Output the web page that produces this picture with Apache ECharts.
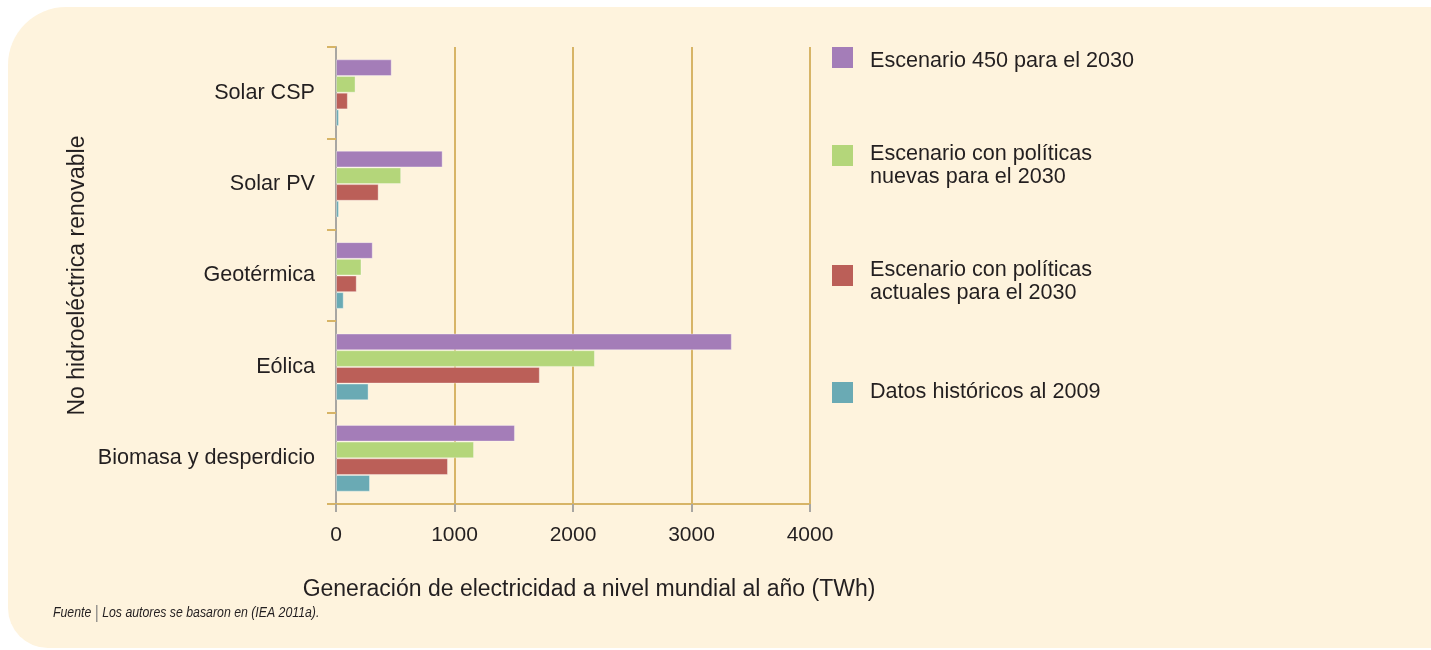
<!DOCTYPE html>
<html>
<head>
<meta charset="utf-8">
<script src="https://cdn.jsdelivr.net/npm/echarts@6/dist/echarts.min.js"></script>
<style>
  html, body { margin: 0; padding: 0; background: #ffffff; }
  #chart { width: 1431px; height: 650px; }
</style>
</head>
<body>
<div id="chart"></div>
<script>
// categorías de arriba hacia abajo
const categories = ['Solar CSP', 'Solar PV', 'Geotérmica', 'Eólica', 'Biomasa y desperdicio']

// TWh por escenario, mismo orden que categories
const escenario450 = [470, 900, 310, 3340, 1510]
const politicasNuevas = [165, 550, 215, 2185, 1165]
const politicasActuales = [100, 360, 175, 1720, 945]
const historicos2009 = [25, 25, 65, 275, 287]

const seriesNames = [
  'Escenario 450 para el 2030',
  'Escenario con políticas\nnuevas para el 2030',
  'Escenario con políticas\nactuales para el 2030',
  'Datos históricos al 2009',
]
const seriesColors = ['#a47db8', '#b4d67a', '#bb5f58', '#6aaab4']
const xTicks = [0, 1000, 2000, 3000, 4000]

const gold = '#d7b466'
const grey = '#a8a6a2'
const ink = '#231f20'
const font = '"Liberation Sans", Arial, sans-serif'

// leyenda dibujada a mano: el cuadro queda alineado con la primera línea
function legendGraphics () {
  const tops = [47, 145, 265, 382]
  const centers = [61, 166, 281.5, 392]
  const out = []
  seriesNames.forEach((name, i) => {
    out.push({
      type: 'rect',
      shape: { x: 832, y: tops[i], width: 21, height: 21 },
      style: { fill: seriesColors[i] },
    })
    out.push({
      type: 'text',
      x: 870,
      y: centers[i],
      style: {
        text: name,
        font: '21.6px ' + font,
        fill: ink,
        lineHeight: 23,
        verticalAlign: 'middle',
        align: 'left',
      },
    })
  })
  return out
}

const chart = echarts.init(document.getElementById('chart'))
const values = [escenario450, politicasNuevas, politicasActuales, historicos2009]

chart.setOption({
  backgroundColor: '#ffffff',
  animation: false,
  grid: { left: 336, top: 47, right: 621, bottom: 146, containLabel: false },
  xAxis: {
    type: 'value',
    min: xTicks[0],
    max: xTicks[xTicks.length - 1],
    interval: 1000,
    axisLine: { show: true, lineStyle: { color: gold, width: 2 } },
    axisTick: { show: true, length: 8, lineStyle: { color: grey, width: 2 } },
    splitLine: { show: true, lineStyle: { color: gold, width: 2 } },
    axisLabel: {
      color: ink,
      fontSize: 21,
      fontFamily: font,
      margin: 21,
      formatter: v => String(v),
    },
  },
  yAxis: {
    type: 'category',
    inverse: true,
    data: categories,
    name: 'No hidroeléctrica renovable',
    nameLocation: 'middle',
    nameRotate: 90,
    nameGap: 247,
    nameTextStyle: { color: ink, fontSize: 23, fontFamily: font },
    axisLine: { show: true, lineStyle: { color: grey, width: 2 } },
    axisTick: { show: true, length: 9, lineStyle: { color: gold, width: 2 } },
    splitLine: { show: false },
    axisLabel: { color: ink, fontSize: 21.6, fontFamily: font, margin: 21 },
  },
  series: values.map((data, i) => ({
    type: 'bar',
    name: seriesNames[i],
    data,
    barGap: '0%',
    barCategoryGap: '27%',
    itemStyle: {
      color: seriesColors[i],
      borderColor: 'rgba(255,255,255,0.35)',
      borderWidth: 1,
    },
  })),
  graphic: [
    {
      type: 'rect',
      z: -10,
      silent: true,
      shape: { x: 8, y: 7, width: 1423, height: 641, r: [58, 0, 0, 40] },
      style: { fill: '#fef3dd' },
    },
    {
      type: 'text',
      x: 589,
      y: 590,
      style: {
        text: 'Generación de electricidad a nivel mundial al año (TWh)',
        font: '23px ' + font,
        fill: ink,
        align: 'center',
        verticalAlign: 'middle',
      },
    },
    {
      // letra condensada: se estrecha el texto en horizontal
      type: 'text',
      x: 53,
      y: 613,
      scaleX: 0.82,
      style: {
        text: '{a|Fuente }{s||}{a| Los autores se basaron en (IEA 2011a).}',
        verticalAlign: 'middle',
        rich: {
          a: { fontFamily: font, fontStyle: 'italic', fontSize: 15, fill: ink },
          s: { fontFamily: font, fontSize: 19, fill: '#8a8785' },
        },
      },
    },
  ].concat(legendGraphics()),
})
</script>
</body>
</html>
